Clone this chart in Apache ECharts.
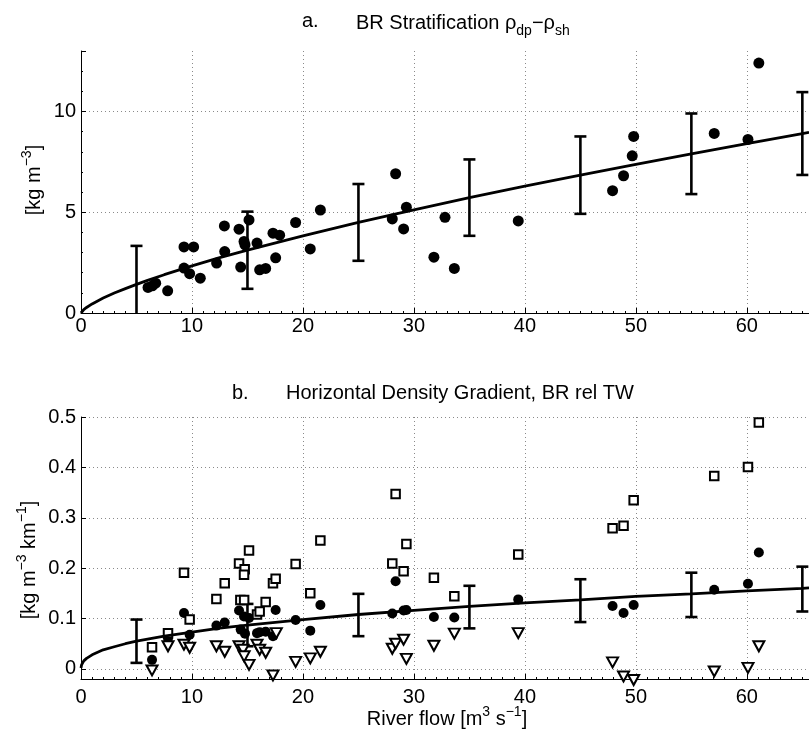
<!DOCTYPE html>
<html><head><meta charset="utf-8">
<script src="https://cdn.jsdelivr.net/npm/echarts@6/dist/echarts.min.js"></script>
<style>html,body{margin:0;padding:0;background:#fff}#c{width:809px;height:742px}</style>
</head><body><div id="c"></div>
<script>
// ---------- Panel a: BR stratification ----------
const aX = [6.04, 6.43, 6.73, 7.81, 9.28, 10.15, 9.28, 9.79, 10.75, 12.22, 12.92, 12.95, 14.24, 14.39, 14.69, 14.78, 15.14, 15.86, 16.1, 16.64, 17.3, 17.9, 17.54, 19.34, 20.66, 21.57,
            28.35, 28.05, 29.32, 29.07, 32.8, 31.8, 33.64, 39.4, 47.9, 48.89, 49.67, 49.8, 57.06, 60.1, 61.08];
const aY = [1.27, 1.35, 1.48, 1.10, 3.28, 3.28, 2.23, 1.95, 1.73, 2.48, 4.32, 3.05, 4.16, 2.28, 3.55, 3.38, 4.62, 3.47, 2.14, 2.21, 3.96, 3.86, 2.74, 4.49, 3.18, 5.11,
            6.91, 4.67, 5.25, 4.17, 4.75, 2.77, 2.21, 4.57, 6.07, 6.81, 7.80, 8.76, 8.91, 8.61, 12.4];
const aCurveX = [0, 0.05, 0.1, 0.25, 0.5, 1, 1.5, 2, 3, 4, 5, 6, 7.5, 10, 12.5, 15, 20, 25, 30, 35, 40, 45, 50, 55, 60, 65, 65.6];
const aCurveY = [0, 0.053, 0.087, 0.167, 0.274, 0.45, 0.60, 0.74, 0.99, 1.21, 1.42, 1.62, 1.90, 2.34, 2.75, 3.12, 3.83, 4.50, 5.12, 5.72, 6.29, 6.84, 7.38, 7.90, 8.41, 8.90, 8.96];
const aErrX  = [5, 15, 25, 35, 45, 55, 65];
const aErrLo = [-0.45, 1.20, 2.59, 3.83, 4.92, 5.90, 6.85];
const aErrHi = [3.33, 5.03, 6.40, 7.62, 8.76, 9.90, 10.96];

// ---------- Panel b: horizontal density gradient ----------
const bCircX = [6.4, 7.84, 9.28, 9.79, 12.2, 12.95, 14.24, 14.39, 14.69, 14.78, 15.14, 15.86, 16.1, 16.64, 17.3, 17.54, 19.34, 20.66, 21.57,
                28.05, 28.35, 29.07, 29.32, 31.8, 33.64, 39.4, 47.9, 48.89, 49.8, 57.06, 60.1, 61.08];
const bCircY = [0.018, 0.061, 0.111, 0.068, 0.086, 0.092, 0.116, 0.078, 0.104, 0.070, 0.101, 0.071, 0.073, 0.074, 0.065, 0.117, 0.097, 0.076, 0.127,
                0.110, 0.174, 0.116, 0.117, 0.103, 0.102, 0.138, 0.125, 0.111, 0.127, 0.157, 0.169, 0.231];
const bSqX = [6.4, 7.84, 9.28, 9.79, 12.2, 12.95, 14.24, 14.36, 14.7, 14.75, 14.69, 15.14, 15.86, 16.1, 16.64, 17.3, 17.54, 19.34, 20.66, 21.57,
              28.05, 28.35, 29.07, 29.32, 31.8, 33.64, 39.4, 47.9, 48.89, 49.8, 57.06, 60.1, 61.08];
const bSqY = [0.043, 0.071, 0.191, 0.098, 0.139, 0.170, 0.209, 0.137, 0.137, 0.198, 0.187, 0.235, 0.108, 0.114, 0.133, 0.170, 0.179, 0.208, 0.150, 0.255,
              0.209, 0.347, 0.194, 0.248, 0.181, 0.144, 0.227, 0.279, 0.284, 0.335, 0.383, 0.401, 0.489];
const bTriX = [6.4, 7.84, 9.28, 9.79, 12.2, 12.95, 14.24, 14.6, 14.7, 15.14, 15.86, 16.1, 16.64, 17.3, 17.6, 19.34, 20.66, 21.57,
               28.05, 28.35, 29.07, 29.32, 31.8, 33.64, 39.4, 47.9, 48.89, 49.8, 57.06, 60.1, 61.08];
const bTriY = [-0.003, 0.045, 0.048, 0.042, 0.045, 0.034, 0.045, 0.038, 0.025, 0.008, 0.048, 0.038, 0.032, -0.013, 0.071, 0.014, 0.021, 0.034,
               0.040, 0.050, 0.058, 0.020, 0.046, 0.070, 0.071, 0.013, -0.015, -0.022, -0.005, 0.002, 0.045];
const bCurveX = [0, 0.02, 0.05, 0.1, 0.25, 0.5, 1, 1.5, 2, 3, 4, 5, 6, 7.5, 10, 12.5, 15, 20, 25, 30, 35, 40, 45, 50, 55, 60, 65, 65.6];
const bCurveY = [0.002, 0.0055, 0.008, 0.011, 0.016, 0.021, 0.028, 0.033, 0.038, 0.044, 0.050, 0.055, 0.059, 0.065, 0.073, 0.081, 0.087, 0.098, 0.108, 0.116, 0.124, 0.131, 0.137, 0.144, 0.149, 0.155, 0.160, 0.161];
const bErrX  = [5, 15, 25, 35, 45, 55, 65];
const bErrLo = [0.012, 0.045, 0.065, 0.0805, 0.093, 0.103, 0.114];
const bErrHi = [0.098, 0.129, 0.149, 0.165, 0.178, 0.191, 0.203];

const FONT = 'Liberation Sans';
const zip = (xs, ys) => xs.map((x, i) => [x, ys[i]]);
const zip3 = (xs, a, b) => xs.map((x, i) => [x, a[i], b[i]]);

function errItem(params, api) {
  const x = api.value(0), lo = api.value(1), hi = api.value(2);
  const cs = params.coordSys;
  const pHi = api.coord([x, hi]);
  const pLo = api.coord([x, lo]);
  const bottom = cs.y + cs.height;
  let yLo = pLo[1], loCap = true;
  if (yLo > bottom) { yLo = bottom; loCap = false; }
  const w = 6;
  const st = { stroke: '#000', lineWidth: 2.6 };
  const ch = [
    { type: 'line', shape: { x1: pHi[0], y1: pHi[1], x2: pHi[0], y2: yLo }, style: st },
    { type: 'line', shape: { x1: pHi[0] - w, y1: pHi[1], x2: pHi[0] + w, y2: pHi[1] }, style: st }
  ];
  if (loCap) ch.push({ type: 'line', shape: { x1: pLo[0] - w, y1: pLo[1], x2: pLo[0] + w, y2: pLo[1] }, style: st });
  return { type: 'group', children: ch };
}

const gridColor = '#8a8a8a';
function xAxisCfg(gi, margin) {
  return {
    type: 'value', gridIndex: gi, min: 0, max: 65.6, interval: 10,
    axisLine: { show: true, onZero: false, lineStyle: { color: '#000', width: 1 } },
    axisTick: { show: true, inside: true, length: 5, lineStyle: { color: '#000' } },
    minorTick: { show: true, splitNumber: 10, length: 2, lineStyle: { color: '#000' } },
    axisLabel: { color: '#000', fontFamily: FONT, fontSize: 20, margin: margin, showMaxLabel: false },
    splitLine: { show: true, showMinLine: false, showMaxLine: false, lineStyle: { color: gridColor, type: [1, 3], width: 1 } }
  };
}

const supRich = {
  n: { fontSize: 20, fontFamily: FONT, lineHeight: 20, verticalAlign: 'bottom', color: '#000' },
  sup: { fontSize: 14, fontFamily: FONT, lineHeight: 14, padding: [0, 0, 10, 0], verticalAlign: 'bottom', color: '#000' }
};
const subRich = {
  n: { fontSize: 20, fontFamily: FONT, lineHeight: 20, verticalAlign: 'top', color: '#000' },
  sub: { fontSize: 14, fontFamily: FONT, lineHeight: 14, padding: [11, 0, 0, 0], verticalAlign: 'top', color: '#000' }
};

const option = {
  animation: false,
  backgroundColor: '#fff',
  grid: [
    { left: 81, top: 51, width: 728, height: 262 },
    { left: 81, top: 417, width: 728, height: 262 }
  ],
  xAxis: [xAxisCfg(0, 3), xAxisCfg(1, 8)],
  yAxis: [
    {
      type: 'value', gridIndex: 0, min: 0, max: 13, interval: 5,
      axisLine: { show: true, lineStyle: { color: '#000' } },
      axisTick: { show: true, inside: true, length: 5, lineStyle: { color: '#000' } },
      minorTick: { show: true, splitNumber: 5, length: 2, lineStyle: { color: '#000' } },
      axisLabel: { color: '#000', fontFamily: FONT, fontSize: 20, margin: 5, showMaxLabel: false },
      splitLine: { show: true, showMinLine: false, showMaxLine: false, lineStyle: { color: gridColor, type: [1, 3] } }
    },
    {
      type: 'value', gridIndex: 1, min: -0.02, max: 0.5, splitNumber: 5,
      axisLine: { show: true, lineStyle: { color: '#000' } },
      axisTick: { show: true, inside: true, length: 5, lineStyle: { color: '#000' } },
      axisLabel: { color: '#000', fontFamily: FONT, fontSize: 20, margin: 5, showMinLabel: false },
      splitLine: { show: true, showMinLine: false, lineStyle: { color: gridColor, type: [1, 3] } }
    }
  ],
  graphic: [
    { type: 'text', x: 302, y: 21, style: { text: 'a.', font: '20px "Liberation Sans"', fill: '#000', textVerticalAlign: 'middle' } },
    { type: 'text', x: 356, y: 23, style: {
        text: '{n|BR Stratification ρ}{sub|dp}{n|−ρ}{sub|sh}', fill: '#000', textVerticalAlign: 'middle', rich: subRich
      } },
    { type: 'text', x: 232, y: 393, style: { text: 'b.', font: '20px "Liberation Sans"', fill: '#000', textVerticalAlign: 'middle' } },
    { type: 'text', x: 286, y: 393, style: { text: 'Horizontal Density Gradient, BR rel TW', font: '20px "Liberation Sans"', fill: '#000', textVerticalAlign: 'middle' } },
    { type: 'text', x: 34, y: 180, rotation: Math.PI / 2, style: {
        text: '{n|[kg m}{sup|−3}{n|]}', fill: '#000', textAlign: 'center', textVerticalAlign: 'middle', rich: supRich
      } },
    { type: 'text', x: 29, y: 560, rotation: Math.PI / 2, style: {
        text: '{n|[kg m}{sup|−3}{n| km}{sup|−1}{n|]}', fill: '#000', textAlign: 'center', textVerticalAlign: 'middle', rich: supRich
      } },
    { type: 'text', x: 447, y: 719, style: {
        text: '{n|River flow [m}{sup|3}{n| s}{sup|−1}{n|]}', fill: '#000', textAlign: 'center', textVerticalAlign: 'middle', rich: supRich
      } }
  ],
  series: [
    { type: 'scatter', xAxisIndex: 0, yAxisIndex: 0, data: zip(aX, aY), symbol: 'circle', symbolSize: 11, itemStyle: { color: '#000', opacity: 1 }, clip: false },
    { type: 'line', xAxisIndex: 0, yAxisIndex: 0, data: zip(aCurveX, aCurveY), symbol: 'none', smooth: false, lineStyle: { color: '#000', width: 2.8 } },
    { type: 'custom', xAxisIndex: 0, yAxisIndex: 0, data: zip3(aErrX, aErrLo, aErrHi), renderItem: errItem },

    { type: 'scatter', xAxisIndex: 1, yAxisIndex: 1, data: zip(bCircX, bCircY), symbol: 'circle', symbolSize: 10, itemStyle: { color: '#000', opacity: 1 }, clip: false },
    { type: 'scatter', xAxisIndex: 1, yAxisIndex: 1, data: zip(bSqX, bSqY), symbol: 'rect', symbolSize: 8.5, itemStyle: { color: '#fff', borderColor: '#000', borderWidth: 2, opacity: 1 }, clip: false },
    { type: 'scatter', xAxisIndex: 1, yAxisIndex: 1, data: zip(bTriX, bTriY), symbol: 'triangle', symbolRotate: 180, symbolSize: [11, 10], itemStyle: { color: '#fff', borderColor: '#000', borderWidth: 2, opacity: 1 }, clip: false },
    { type: 'line', xAxisIndex: 1, yAxisIndex: 1, data: zip(bCurveX, bCurveY), symbol: 'none', smooth: false, lineStyle: { color: '#000', width: 2.8 } },
    { type: 'custom', xAxisIndex: 1, yAxisIndex: 1, data: zip3(bErrX, bErrLo, bErrHi), renderItem: errItem }
  ]
};
const chart = echarts.init(document.getElementById('c'), null, { renderer: 'canvas' });
chart.setOption(option);
</script>
</body></html>
